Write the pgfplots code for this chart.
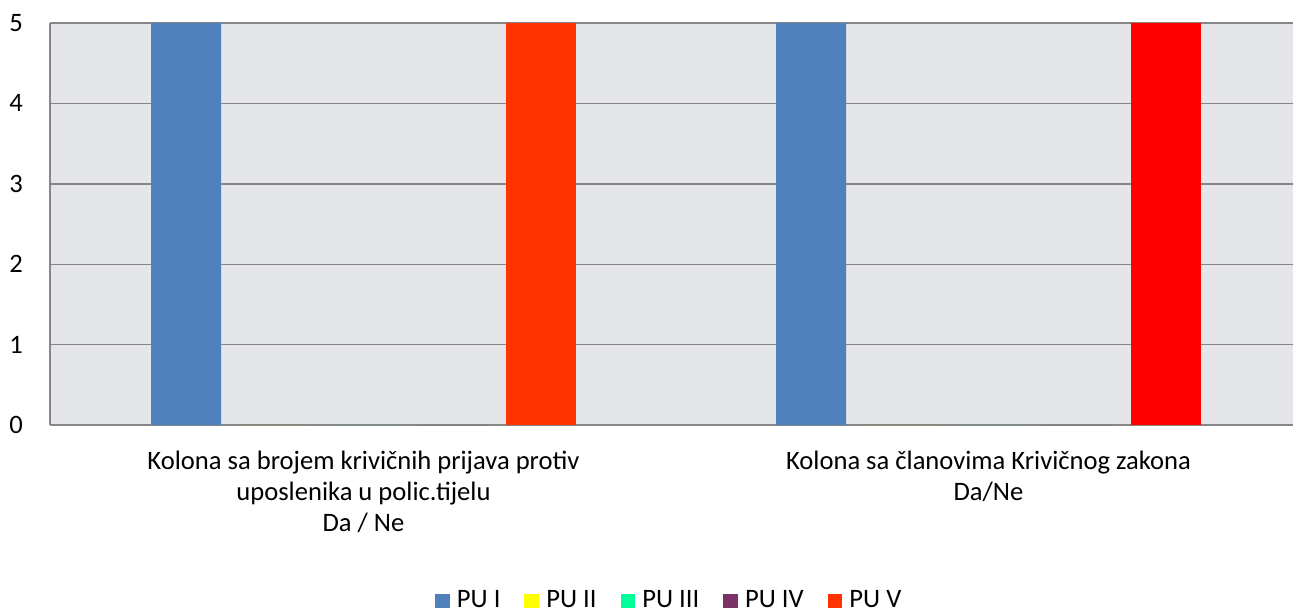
\documentclass[border=0pt]{standalone}
\usepackage{pgfplots}
\pgfplotsset{compat=1.18}
\usepackage{fontspec}
\setmainfont{Carlito}
\definecolor{puI}{HTML}{4F81BD}
\definecolor{puII}{HTML}{FFFF00}
\definecolor{puIII}{HTML}{00FF99}
\definecolor{puIV}{HTML}{7A3366}
\definecolor{puV}{HTML}{FF3300}
\definecolor{puVb}{HTML}{FF0000}
\definecolor{marble}{RGB}{229,230,233}
\definecolor{gridc}{RGB}{134,134,134}
\begin{document}
\fontsize{13.3}{15.5}\selectfont
\begin{tikzpicture}
\begin{axis}[
  name=ax,
  scale only axis,
  width=621.5pt, height=201pt,
  xmin=-0.5016, xmax=1.4872,
  ymin=0, ymax=5,
  axis x line=bottom, axis y line=left,
  axis line style={-, gridc, line width=0.8pt},
  ytick={0,1,2,3,4,5},
  xtick={0,1},
  xticklabels={{Kolona sa brojem krivičnih prijava protiv\\uposlenika u polic.tijelu\\Da / Ne},{Kolona sa članovima Krivičnog zakona\\Da/Ne}},
  xticklabel style={align=center, font=\fontsize{13.3}{15.5}\selectfont, yshift=-8.5pt},
  yticklabel style={font=\fontsize{13.3}{15.5}\selectfont, xshift=-9pt},
  /pgf/number format/assume math mode=true,
  major tick length=0pt,
  ymajorgrids,
  grid style={gridc, line width=0.7pt},
  axis background/.style={fill=marble},
  ybar, bar width=0.112,
  legend style={at={(0.499,-0.438)}, anchor=center, draw=none, fill=none,
    legend columns=-1, font=\fontsize{13.3}{14}\selectfont,
    /tikz/every odd column/.append style={column sep=1.5pt},
    /tikz/every even column/.append style={column sep=10pt}},
  legend image code/.code={\fill[#1] (0pt,-3.7pt) rectangle (7.4pt,3.7pt);},
  every axis plot/.append style={draw=none},
]
\addplot[fill=puI, bar shift=-0.284] coordinates {(0,5) (1,5)};
\addlegendentry{PU I}
\addplot[fill=puII, bar shift=-0.142] coordinates {(0,0) (1,0)};
\addlegendentry{PU II}
\addplot[fill=puIII, bar shift=0] coordinates {(0,0) (1,0)};
\addlegendentry{PU III}
\addplot[fill=puIV, bar shift=0.142] coordinates {(0,0) (1,0)};
\addlegendentry{PU IV}
\addplot[fill=puV, bar shift=0.284] coordinates {(0,5)};
\addlegendentry{PU V}
\addplot[fill=puVb, bar shift=0.284, forget plot] coordinates {(1,5)};
\end{axis}
\pgfresetboundingbox
\path[use as bounding box] ([xshift=-25pt,yshift=-95pt]ax.south west) rectangle ([yshift=11.5pt]ax.north east);
\end{tikzpicture}
\end{document}
